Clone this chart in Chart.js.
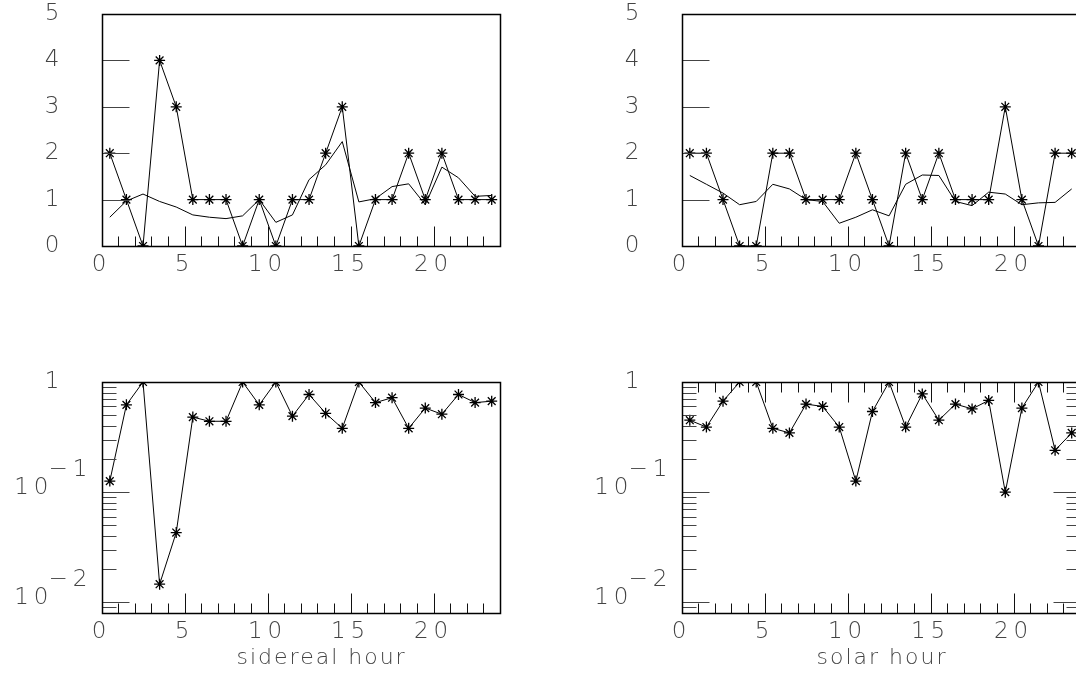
<!DOCTYPE html>
<html>
<head>
<meta charset="utf-8">
<script src="https://cdn.jsdelivr.net/npm/chart.js@4.4.0/dist/chart.umd.min.js"></script>
<style>
  html, body { margin: 0; padding: 0; background: #fff; width: 1076px; height: 677px; overflow: hidden; }
  body { position: relative; }
  canvas { position: absolute; }
  #sidTop { left: 0; top: 0; }
  #solTop { left: 580px; top: 0; }
  #sidBot { left: 0; top: 360px; }
  #solBot { left: 580px; top: 360px; }
</style>
</head>
<body>
<canvas id="sidTop" width="520" height="300"></canvas>
<canvas id="solTop" width="520" height="300"></canvas>
<canvas id="sidBot" width="520" height="317"></canvas>
<canvas id="solBot" width="520" height="317"></canvas>
<script>
// hour bins (centres)
const hours = [0.5, 1.5, 2.5, 3.5, 4.5, 5.5, 6.5, 7.5, 8.5, 9.5, 10.5, 11.5,
               12.5, 13.5, 14.5, 15.5, 16.5, 17.5, 18.5, 19.5, 20.5, 21.5, 22.5, 23.5];

// counts per hour (stars) and expected counts (plain line)
const siderealCounts = [2, 1, 0, 4, 3, 1, 1, 1, 0, 1, 0, 1, 1, 2, 3, 0, 1, 1, 2, 1, 2, 1, 1, 1];
const siderealExpected = [0.62, 0.97, 1.12, 0.96, 0.84, 0.67, 0.62, 0.59, 0.65, 1.0, 0.51, 0.67,
                          1.43, 1.75, 2.25, 0.95, 1.02, 1.28, 1.34, 0.89, 1.7, 1.47, 1.07, 1.09];
const solarCounts = [2, 2, 1, 0, 0, 2, 2, 1, 1, 1, 2, 1, 0, 2, 1, 2, 1, 1, 1, 3, 1, 0, 2, 2];
const solarExpected = [1.52, 1.33, 1.14, 0.89, 0.96, 1.33, 1.23, 1.0, 0.96, 0.49, 0.62, 0.78,
                       0.65, 1.33, 1.53, 1.52, 0.96, 0.87, 1.16, 1.12, 0.89, 0.93, 0.94, 1.23];

// probabilities per hour (log panels)
const siderealProb = [0.126, 0.62, 1.0, 0.0146, 0.043, 0.48, 0.44, 0.44, 1.0, 0.62, 1.0, 0.49,
                      0.77, 0.52, 0.38, 1.0, 0.65, 0.72, 0.38, 0.58, 0.51, 0.77, 0.65, 0.67];
const solarProb = [0.45, 0.39, 0.67, 1.0, 1.0, 0.38, 0.345, 0.63, 0.6, 0.39, 0.126, 0.54,
                   1.0, 0.39, 0.78, 0.45, 0.63, 0.57, 0.68, 0.10, 0.58, 1.0, 0.24, 0.345];

// tick labels
const hourTicks = [0, 5, 10, 15, 20];
const countTicks = [0, 1, 2, 3, 4, 5];
const probTickValues = [1, 0.1, 0.01];
const probTickBase = ['1', '10', '10'];
const probTickExp = ['', '\u22121', '\u22122'];

const labelColor = '#444';
const labelFont = { family: "'DejaVu Sans'", size: 23, weight: 200 };

const pts = vals => vals.map((v, i) => ({ x: hours[i], y: v }));

// frame, inward ticks, log labels and axis title, PAW style
const paw = {
  id: 'paw',
  beforeDraw(chart) {
    chart.ctx.letterSpacing = '5px';
  },
  afterDraw(chart, args, opts) {
    const { ctx, chartArea: a, scales: { x, y } } = chart;
    const L = Math.round(a.left) + 0.5, R = Math.round(a.right) + 0.5;
    const T = Math.round(a.top) + 0.5, B = Math.round(a.bottom) + 0.5;
    ctx.save();
    ctx.strokeStyle = '#111';
    ctx.lineWidth = 1;
    ctx.beginPath();
    for (let h = x.min; h <= x.max; h++) {
      const px = Math.round(x.getPixelForValue(h)) + 0.5;
      const len = h % 5 === 0 ? 20 : 10;
      ctx.moveTo(px, B); ctx.lineTo(px, B - len);
      if (opts.mirror) { ctx.moveTo(px, T); ctx.lineTo(px, T + len); }
    }
    ctx.stroke();

    ctx.strokeStyle = '#444';
    ctx.beginPath();
    if (y.type === 'logarithmic') {
      for (let e = -3; e <= 0; e++) {
        for (let k = 1; k <= 9; k++) {
          const v = k * Math.pow(10, e);
          if (v < y.min * 0.999 || v > y.max * 1.001) continue;
          const py = Math.round(y.getPixelForValue(v)) + 0.5;
          const len = k === 1 ? 27 : 14;
          ctx.moveTo(L, py); ctx.lineTo(L + len, py);
          if (opts.mirror) { ctx.moveTo(R, py); ctx.lineTo(R - len, py); }
        }
      }
    } else {
      for (let v = y.min; v <= y.max; v++) {
        const py = Math.round(y.getPixelForValue(v)) + 0.5;
        ctx.moveTo(L, py); ctx.lineTo(L + 27, py);
      }
    }
    ctx.stroke();

    ctx.strokeStyle = '#000';
    ctx.lineWidth = 1.5;
    ctx.strokeRect(L, T, R - L, B - T);

    ctx.fillStyle = labelColor;
    ctx.font = '200 23px "DejaVu Sans"';
    ctx.textBaseline = 'middle';
    if (y.type === 'logarithmic') {
      probTickValues.forEach((v, i) => {
        const py = y.getPixelForValue(v);
        if (!probTickExp[i]) {
          ctx.textAlign = 'center';
          ctx.fillText(probTickBase[i], a.left - 47, py);
        } else {
          ctx.textAlign = 'right';
          ctx.fillText(probTickBase[i], a.left - 48, py - 4);
          ctx.textAlign = 'left';
          ctx.fillText(probTickExp[i], a.left - 53, py - 22);
        }
      });
    }
    if (opts.title) {
      ctx.textAlign = 'left';
      ctx.letterSpacing = '2px';
      ctx.font = '200 22px "DejaVu Sans"';
      ctx.fillText(opts.title, a.left + 135, a.bottom + 45);
    }
    ctx.restore();
  }
};

const noPad = s => { s.paddingTop = 0; s.paddingBottom = 0; s.paddingLeft = 0; s.paddingRight = 0; };

function makeChart(id, datasets, yScale, xHeight, padTop, pawOpts) {
  new Chart(document.getElementById(id), {
    type: 'line',
    data: { datasets },
    options: {
      responsive: false,
      animation: false,
      devicePixelRatio: 1,
      layout: { padding: { top: padTop, right: 20, left: 0, bottom: 0 } },
      plugins: { legend: { display: false }, tooltip: { enabled: false }, paw: pawOpts },
      scales: {
        x: {
          type: 'linear', min: 0, max: 24,
          grid: { display: false, drawTicks: false },
          border: { display: false },
          afterBuildTicks: s => { s.ticks = hourTicks.map(v => ({ value: v })); },
          ticks: { padding: 5, color: labelColor, font: labelFont, maxRotation: 0 },
          afterFit: s => { s.height = xHeight; noPad(s); }
        },
        y: yScale
      }
    },
    plugins: [paw]
  });
}

const countAxis = {
  type: 'linear', min: 0, max: 5,
  grid: { display: false, drawTicks: false },
  border: { display: false },
  afterBuildTicks: s => { s.ticks = countTicks.map(v => ({ value: v })); },
  ticks: { padding: 37, color: labelColor, font: labelFont },
  afterFit: s => { s.width = 101.5; noPad(s); }
};

const probAxis = {
  type: 'logarithmic', min: 0.008, max: 1,
  grid: { display: false, drawTicks: false },
  border: { display: false },
  ticks: { display: false },
  afterFit: s => { s.width = 101.5; noPad(s); }
};

const starSet = vals => ({
  data: pts(vals),
  borderColor: '#000', borderWidth: 1,
  pointStyle: 'star', pointRadius: 5.5, pointBorderColor: '#000', pointBorderWidth: 1.3,
  tension: 0
});
const plainSet = vals => ({
  data: pts(vals),
  borderColor: '#000', borderWidth: 1,
  pointRadius: 0, tension: 0
});

makeChart('sidTop', [starSet(siderealCounts), plainSet(siderealExpected)], countAxis, 54, 14, { mirror: false });
makeChart('solTop', [starSet(solarCounts), plainSet(solarExpected)], countAxis, 54, 14, { mirror: false });
makeChart('sidBot', [starSet(siderealProb)], probAxis, 64, 22, { mirror: false, title: 'sidereal hour' });
makeChart('solBot', [starSet(solarProb)], probAxis, 64, 22, { mirror: true, title: 'solar hour' });
</script>
</body>
</html>
